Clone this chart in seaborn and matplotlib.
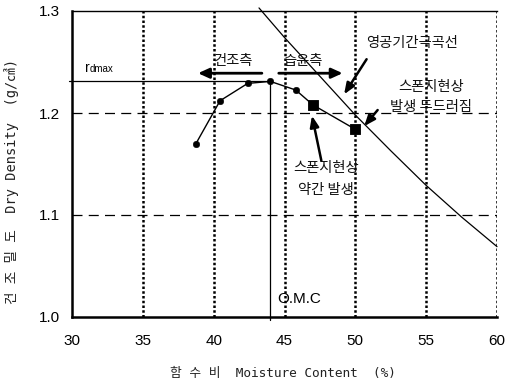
import matplotlib
matplotlib.use("Agg")
import matplotlib.pyplot as plt
import seaborn as sns
import pandas as pd

# ---- data ----
moisture = [38.75, 40.45, 42.4, 44.0, 45.8, 47.0, 50.0]
density = [1.170, 1.212, 1.229, 1.231, 1.2225, 1.208, 1.184]
marker_kind = ["o", "o", "o", "o", "o", "s", "s"]

zav_w = [43.2, 45.0, 47.5, 50.0, 52.5, 55.0, 57.5, 60.0]
zav_d = [1.303, 1.274, 1.236, 1.198, 1.163, 1.129, 1.098, 1.069]

omc = 44.0
rdmax = 1.231

xticks = [30, 35, 40, 45, 50, 55, 60]
yticks = [1.0, 1.1, 1.2, 1.3]
ytick_labels = ["1.0", "1.1", "1.2", "1.3"]

sns.set_theme(style="white")
KR = "Noto Sans CJK KR"
NARROW = ["Liberation Sans Narrow", "Liberation Sans", "DejaVu Sans"]
plt.rcParams["font.family"] = NARROW

fig = plt.figure(figsize=(5.13, 3.88), dpi=100)
ax = fig.add_axes([72/513, 1-317/388, (497-72)/513, (317-11)/388])

df = pd.DataFrame({"w": moisture, "d": density, "m": marker_kind})
zdf = pd.DataFrame({"w": zav_w, "d": zav_d})

# grid lines
for x in xticks[1:]:
    ax.axvline(x, color="black", lw=1.8, linestyle=(0, (1.0, 0.9)), zorder=1)
for y in [1.1, 1.2]:
    ax.axhline(y, color="black", lw=0.9, linestyle=(0, (8, 5)), zorder=1)

# compaction curve
sns.lineplot(data=df, x="w", y="d", ax=ax, color="black", lw=1.0,
             sort=True, estimator=None, zorder=3)
circ = df[df["m"] == "o"]
sq = df[df["m"] == "s"]
sns.scatterplot(data=circ, x="w", y="d", ax=ax, color="black", marker="o",
                s=22, edgecolor="black", zorder=4)
sns.scatterplot(data=sq, x="w", y="d", ax=ax, color="black", marker="s",
                s=60, edgecolor="black", zorder=4)

# zero air voids curve
sns.lineplot(data=zdf, x="w", y="d", ax=ax, color="black", lw=0.9,
             estimator=None, zorder=2)
for l in ax.lines[-1:]:
    l.set_clip_on(False)

# rdmax and OMC lines
ax.plot([29.8, omc], [rdmax, rdmax], color="black", lw=0.9, clip_on=False, zorder=3)
ax.plot([omc, omc], [0.997, rdmax], color="black", lw=0.9, clip_on=False, zorder=3)

ax.set_xlim(30, 60)
ax.set_ylim(1.0, 1.3)
ax.set_xticks(xticks)
ax.set_yticks(yticks)
ax.set_yticklabels(ytick_labels)
ax.tick_params(axis="both", length=0, labelsize=11, colors="black")
ax.tick_params(axis="x", pad=12)
ax.tick_params(axis="y", pad=9)
ax.set_xlabel("")
ax.set_ylabel("")

for s in ["left", "bottom"]:
    ax.spines[s].set_linewidth(1.8)
    ax.spines[s].set_color("black")
ax.spines["top"].set_linewidth(1.0)
ax.spines["top"].set_color("black")
ax.spines["right"].set_visible(False)

# annotations
kfont = dict(family=[KR, "DejaVu Sans"], fontsize=10.3, color="#111111")
ax.text(41.36, 1.2505, "건조측", ha="center", va="center", **kfont)
ax.text(46.30, 1.2505, "습윤측", ha="center", va="center", **kfont)
ax.annotate("", xy=(38.7, 1.239), xytext=(43.6, 1.239),
            arrowprops=dict(arrowstyle="-|>,head_length=0.55,head_width=0.25", lw=2, color="black"))
ax.annotate("", xy=(49.3, 1.239), xytext=(44.4, 1.239),
            arrowprops=dict(arrowstyle="-|>,head_length=0.55,head_width=0.25", lw=2, color="black"))

ax.text(54.0, 1.2686, "영공기간극곡선", ha="center", va="center", **kfont)
ax.annotate("", xy=(49.1, 1.216), xytext=(50.9, 1.255),
            arrowprops=dict(arrowstyle="-|>,head_length=0.55,head_width=0.22", lw=1.8, color="black"))

ax.text(55.34, 1.2255, "스폰지현상", ha="center", va="center", **kfont)
ax.text(55.34, 1.2059, "발생 두드러짐", ha="center", va="center", **kfont)
ax.annotate("", xy=(50.5, 1.185), xytext=(51.7, 1.205),
            arrowprops=dict(arrowstyle="-|>,head_length=0.55,head_width=0.22", lw=1.8, color="black"))

ax.text(47.93, 1.1461, "스폰지현상", ha="center", va="center", **kfont)
ax.text(47.93, 1.1245, "약간 발생", ha="center", va="center", **kfont)
ax.annotate("", xy=(46.9, 1.200), xytext=(47.64, 1.1507),
            arrowprops=dict(arrowstyle="-|>,head_length=0.55,head_width=0.22", lw=1.8, color="black"))

ax.text(44.47, 1.0176, "O.M.C", ha="left", va="center", fontsize=11, color="black")
ax.text(30.92, 1.240, "r", ha="left", va="baseline", fontsize=10, color="black")
ax.text(31.25, 1.240, "dmax", ha="left", va="baseline", fontsize=7, color="black")

mono = ["DejaVu Sans Mono", KR]
fig.text(283/513, 1-373/388, "함 수 비  Moisture Content  (%)", ha="center", va="center",
         family=mono, fontsize=9.2, color="#222222")
fig.text(12/513, 1-181/388, "건 조 밀 도  Dry Density  (g/㎤)", ha="center", va="center",
         rotation=90, family=mono, fontsize=9.8, color="#222222")

fig.savefig("out.png", dpi=100)
